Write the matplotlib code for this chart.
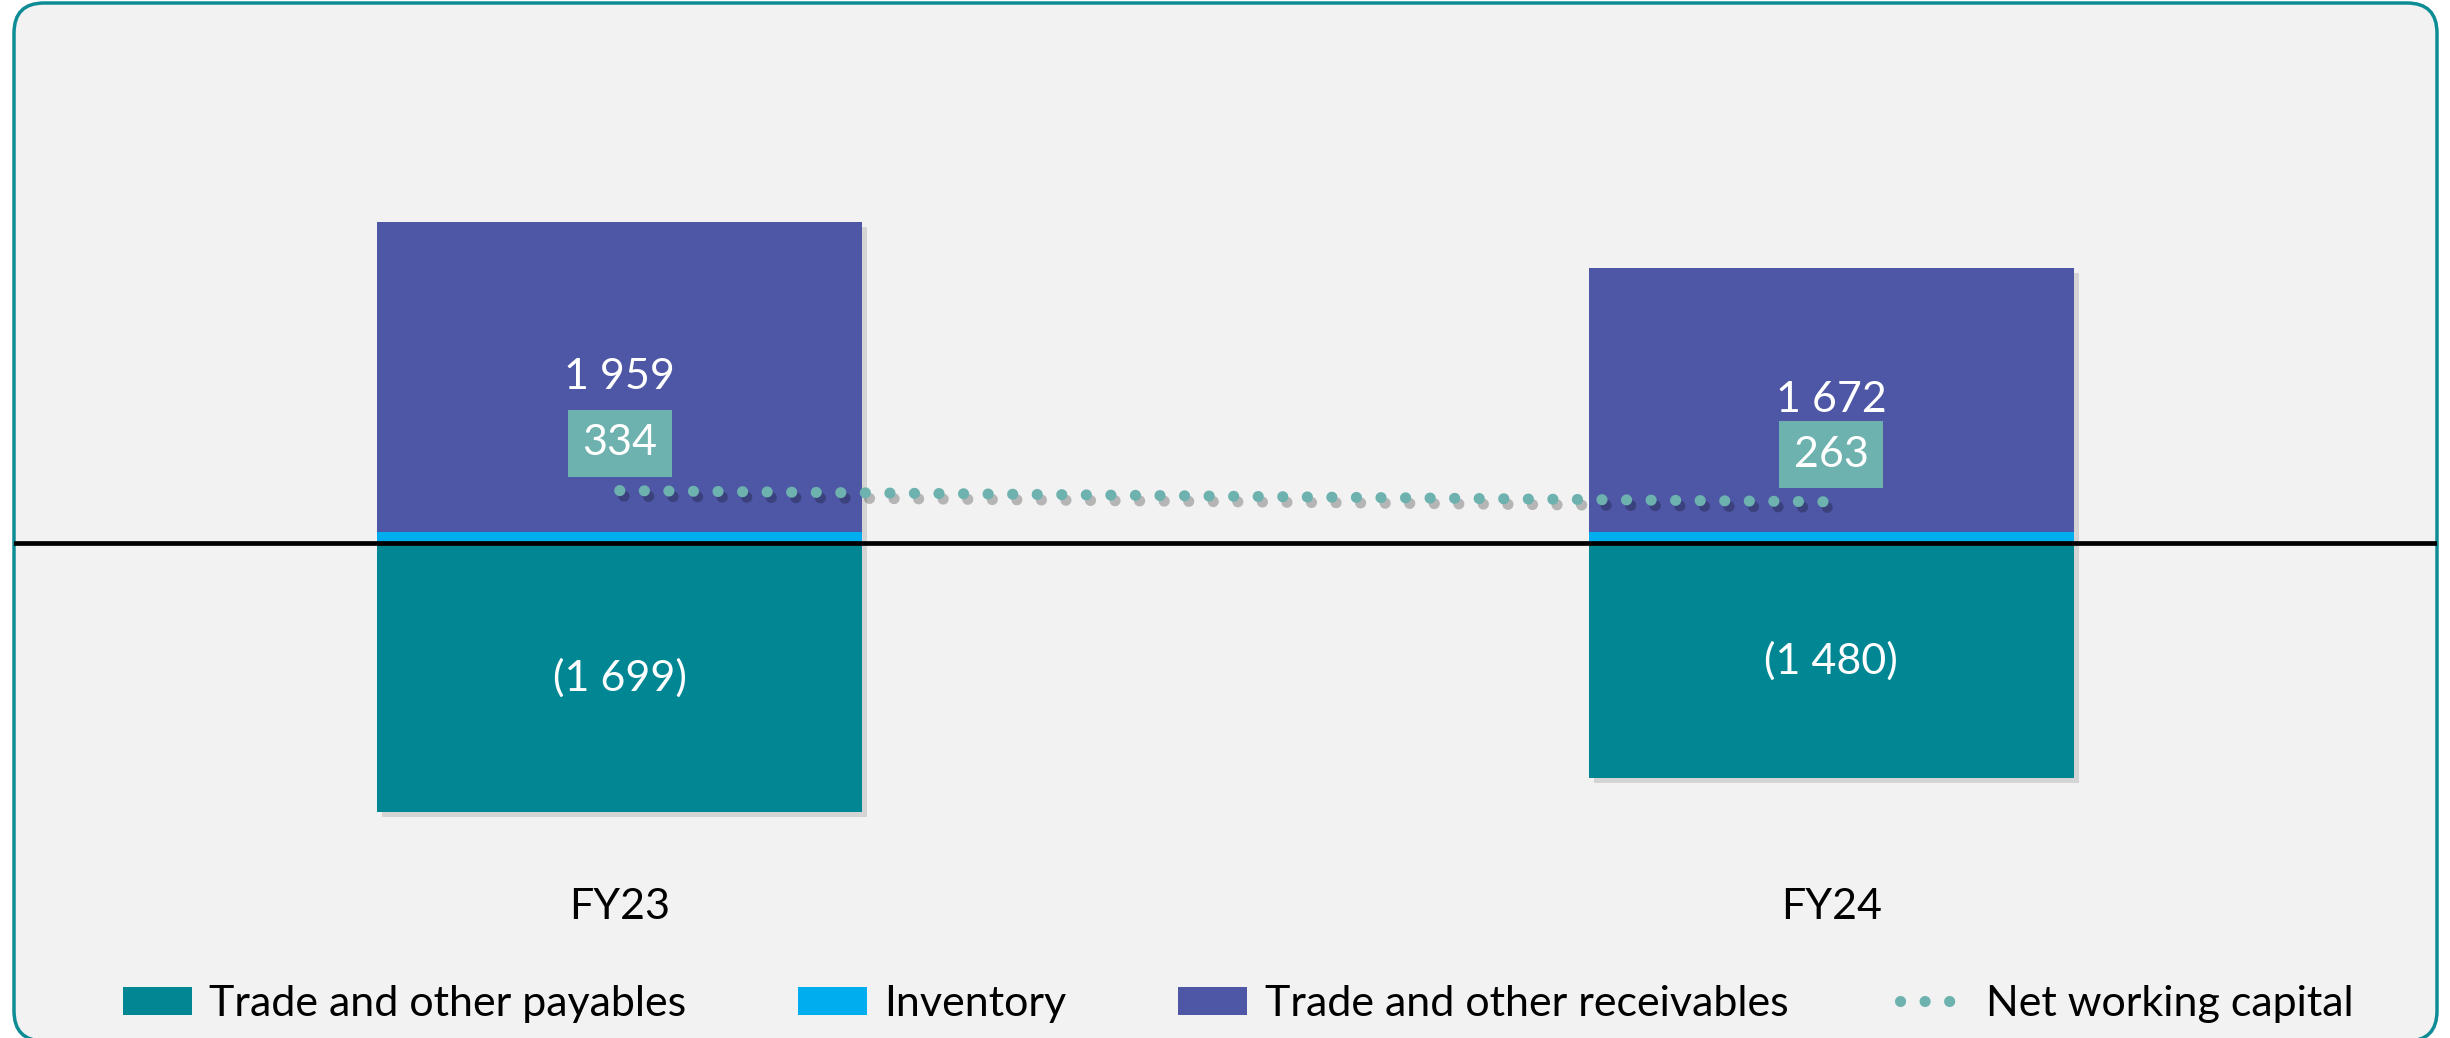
import matplotlib
matplotlib.use("Agg")
import matplotlib.pyplot as plt
from matplotlib.patches import FancyBboxPatch, Patch
from matplotlib.lines import Line2D
from matplotlib import patheffects as pe
from matplotlib.transforms import ScaledTranslation

plt.rcParams['font.family'] = ['Lato', 'DejaVu Sans']

# ----------------- data -----------------
years = ["FY23", "FY24"]
payables = [-1699, -1480]
inventory = [74, 71]
receivables = [1959, 1672]
net_wc = [334, 263]

C_PAY = "#018794"
C_INV = "#00AEEF"
C_REC = "#4E57A6"
C_NWC = "#6DB2AF"
C_BG = "#F2F2F2"
C_BORDER = "#0E8C96"
FS = 31
DOTS = (0, (0.01, 2.2))


def fmt(v):
    s = f"{abs(v):,}".replace(",", " ")
    return f"({s})" if v < 0 else s


W, H = 2450, 1038
fig = plt.figure(figsize=(W / 100, H / 100), dpi=100)
fig.patch.set_facecolor("white")

# rounded panel behind the chart
panel = FancyBboxPatch((0.14, -0.03), 24.23, 10.38,
                       boxstyle="round,pad=0,rounding_size=0.3",
                       transform=fig.dpi_scale_trans,
                       facecolor=C_BG, edgecolor=C_BORDER, linewidth=2.5, zorder=-5)
fig.patches.append(panel)

ax = fig.add_axes([14 / W, 0.1714, 2423 / W, 0.7931])
ax.set_zorder(2)
ax.set_facecolor("none")
ax.set_xlim(-0.5, 1.5)
ax.set_ylim(-2000, 3200)

x = list(range(len(years)))
bw = 0.40
rec_bottom = inventory

# soft drop shadow pass
shadow = ax.transData + ScaledTranslation(5 / 100, -5 / 100, fig.dpi_scale_trans)
for vals, btm in [(payables, None), (inventory, None), (receivables, rec_bottom)]:
    ax.bar(x, vals, width=bw, bottom=btm, color="#000000", alpha=0.12,
           transform=shadow, zorder=1, linewidth=0)

ax.bar(x, payables, width=bw, color=C_PAY, zorder=2, linewidth=0)
ax.bar(x, inventory, width=bw, color=C_INV, zorder=2, linewidth=0)
ax.bar(x, receivables, width=bw, bottom=rec_bottom, color=C_REC, zorder=2, linewidth=0)

ax.axhline(0, color="black", linewidth=3.4, zorder=3)

ax.plot(x, net_wc, color=C_NWC, linewidth=8, linestyle=DOTS,
        dash_capstyle="round", zorder=4,
        path_effects=[pe.SimpleLineShadow(offset=(3, -4), shadow_color="black", alpha=0.25),
                      pe.Normal()])

for i in x:
    ax.text(i, rec_bottom[i] + receivables[i] / 2, fmt(receivables[i]), color="white",
            fontsize=FS, ha="center", va="center", zorder=5)
    ax.text(i, payables[i] / 2, fmt(payables[i]), color="white",
            fontsize=FS, ha="center", va="center", zorder=5)
    ax.annotate(fmt(net_wc[i]), (i, net_wc[i]), xytext=(0, 34), textcoords="offset points",
                color="white", fontsize=FS, ha="center", va="center", zorder=6,
                bbox=dict(boxstyle="square,pad=0.34", facecolor=C_NWC, edgecolor="none"))

ax.set_xticks(x, years)
ax.tick_params(axis="x", length=0, pad=20, labelsize=FS)
ax.set_yticks([])
for s in ax.spines.values():
    s.set_visible(False)

handles = [
    Patch(facecolor=C_PAY, label="Trade and other payables"),
    Patch(facecolor=C_INV, label="Inventory"),
    Patch(facecolor=C_REC, label="Trade and other receivables"),
    Line2D([0], [0], color=C_NWC, linewidth=8, linestyle=DOTS,
           dash_capstyle="round", label="Net working capital"),
]
fig.legend(handles=handles, loc="center", bbox_to_anchor=(0.5055, 1 - 1004 / H),
           ncol=4, frameon=False, fontsize=FS, handlelength=1.6, handleheight=0.62,
           handletextpad=0.4, columnspacing=2.6)

fig.savefig("out.png", dpi=100, facecolor=fig.get_facecolor())
